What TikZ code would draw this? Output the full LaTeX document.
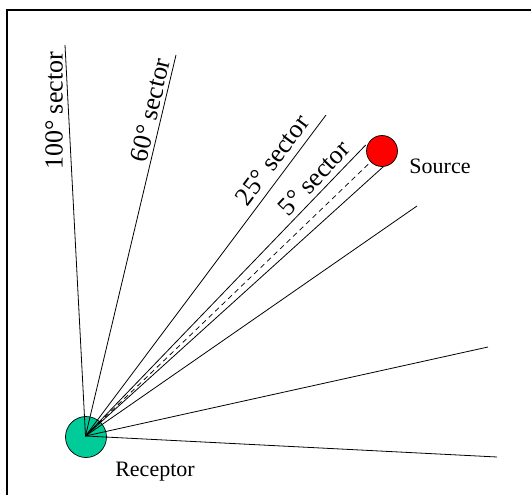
\documentclass[tikz,border=0pt]{standalone}
\usepackage{fontspec}
\setmainfont{Liberation Serif}
\definecolor{recgreen}{RGB}{0,204,153}
\begin{document}
\begin{tikzpicture}[x=1pt,y=-1pt,
  ray/.style={draw=black,line width=0.8pt},
  midray/.style={draw=black,line width=0.8pt,dash pattern=on 5pt off 4pt},
  sectorlbl/.style={inner sep=0pt,font=\fontsize{26}{30}\selectfont},
  namelbl/.style={inner sep=0pt,font=\fontsize{22}{26}\selectfont},
  frame/.style={draw=black,line width=2pt}]
\useasboundingbox (0,0) rectangle (531,495);
\draw[frame] (7,497) -- (7,10) -- (533,10);
% end points of the sector boundaries
\coordinate (a1) at (65,45);
\coordinate (b1) at (176,55);
\coordinate (c1) at (326,115);
\coordinate (d1) at (365.7,145);
\coordinate (d2) at (383.3,166.7);
\coordinate (c2) at (417,206);
\coordinate (b2) at (488,347);
\coordinate (a2) at (497,457);
\node[circle,draw,fill=recgreen,minimum size=41pt,inner sep=0pt,line width=0.7pt] (rec) at (86,437) {};
\node[circle,draw,fill=red,minimum size=31pt,inner sep=0pt,line width=0.7pt] (src) at (382,151) {};
\coordinate (o) at (85.5,436);
\foreach \e in {a1,b1,c1,d1,d2,c2,b2,a2} \draw[ray] (o) -- (\e);
\draw[midray] (o) -- (src);
% labels
\node[sectorlbl,rotate=90] (l100) at (54,111) {100° sector};
\node[sectorlbl,rotate=76.7] (l60) at (150,110) {60° sector};
\node[sectorlbl,rotate=53.2] (l25) at (272,160) {25° sector};
\node[sectorlbl,rotate=46.2] (l5) at (314,178) {5° sector};
\node[namelbl,anchor=base] (srclbl) at (440,174) {Source};
\node[namelbl,anchor=base] (reclbl) at (155,476) {Receptor};
\end{tikzpicture}
\end{document}
